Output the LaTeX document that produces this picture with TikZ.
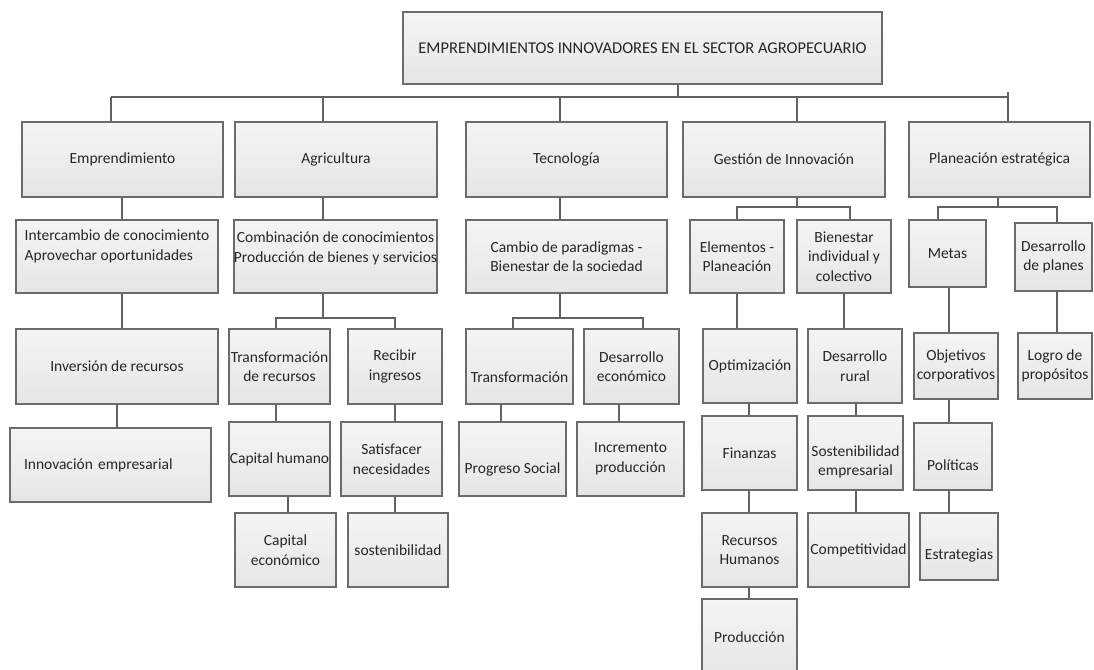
\documentclass[tikz,border=0pt]{standalone}
\usepackage{fontspec}
\setmainfont{Carlito}
\usetikzlibrary{calc,shadows}

\newcommand{\nudge}[2]{\raisebox{#1}[\height][\depth]{#2}}
% box between two corners (x1,y1) and (x2,y2), pixel units
\newcommand{\caja}[7][]{%
  \node[box, minimum width={#5-#3}, minimum height={#6-#4}, #1] (#2)
    at ({(#3+#5)/2},{(#4+#6)/2}) {#7};}

\begin{document}
\begin{tikzpicture}[x=1pt, y=-1pt,
    box/.style={draw=black!58, line width=1.2pt, top color=black!4, bottom color=black!10,
      drop shadow={shadow xshift=1.2pt, shadow yshift=-1.2pt, opacity=.25},
      inner sep=0pt, align=center, text=black!85,
      font=\fontsize{15.5}{19.5}\selectfont},
    link/.style={draw=black!62, line width=1.2pt}]
  \useasboundingbox (0,0) rectangle (1094,669);

  \caja[font=\fontsize{16.5}{19.5}\selectfont]{top}{403}{12}{882}{84}{EMPRENDIMIENTOS INNOVADORES EN EL SECTOR AGROPECUARIO}

  % first row
  \caja{empr}{22}{122}{223}{197}{Emprendimiento}
  \caja{agri}{235}{122}{437}{197}{Agricultura}
  \caja{tecn}{466}{122}{667}{197}{Tecnología}
  \caja{gest}{683}{122}{885}{197}{Gestión de Innovación}
  \caja{plan}{909}{122}{1090}{197}{Planeación estratégica}

  % second row
  \caja{inter}{16}{220}{218}{293}{\nudge{10pt}{\begin{tabular}{@{}l@{}}Intercambio de conocimiento\\Aprovechar oportunidades\end{tabular}}}
  \caja{comb}{235}{220}{436}{293}{\nudge{8pt}{\begin{tabular}{@{}c@{}}Combinación de conocimientos\\Producción de bienes y servicios\end{tabular}}}
  \caja{camb}{466}{220}{667}{293}{Cambio de paradigmas -\\Bienestar de la sociedad}
  \caja{elem}{690}{220}{784}{293}{Elementos -\\Planeación}
  \caja{bien}{797}{220}{891}{293}{Bienestar\\individual y\\colectivo}
  \caja{meta}{909}{220}{986}{287}{Metas}
  \caja{dpla}{1015}{223}{1092}{291}{Desarrollo\\de planes}

  % third row
  \caja{inve}{16}{329}{218}{404}{Inversión de recursos}
  \caja{trar}{229}{329}{330}{404}{Transformación\\de recursos}
  \caja{reci}{348}{329}{442}{404}{Recibir\\ingresos}
  \caja{traf}{466}{329}{573}{404}{\nudge{-11pt}{Transformación}}
  \caja{dese}{584}{329}{679}{404}{Desarrollo\\económico}
  \caja{opti}{703}{329}{797}{403}{Optimización}
  \caja{drur}{808}{329}{902}{403}{Desarrollo\\rural}
  \caja{obje}{914}{333}{998}{399}{Objetivos\\corporativos}
  \caja{logr}{1018}{333}{1092}{399}{Logro de\\propósitos}

  % fourth row
  \caja[text width=173pt, align=left, inner xsep=14pt]{inno}{10}{428}{211}{502}{Innovación empresarial}
  \caja{caph}{229}{422}{330}{496}{Capital humano}
  \caja{sati}{341}{422}{442}{496}{Satisfacer\\necesidades}
  \caja{prog}{459}{422}{566}{496}{\nudge{-10pt}{Progreso Social}}
  \caja{incr}{577}{422}{684}{496}{Incremento\\producción}
  \caja{fina}{702}{416}{797}{490}{Finanzas}
  \caja{sose}{808}{416}{903}{490}{\nudge{-9pt}{\begin{tabular}{@{}c@{}}Sostenibilidad\\empresarial\end{tabular}}}
  \caja{poli}{914}{423}{992}{490}{\nudge{-9pt}{Políticas}}

  % fifth row
  \caja{cape}{235}{513}{336}{587}{Capital\\económico}
  \caja{sost}{348}{513}{448}{587}{sostenibilidad}
  \caja{rehu}{702}{513}{797}{587}{Recursos\\Humanos}
  \caja{comp}{808}{513}{909}{587}{Competitividad}
  \caja{estr}{920}{513}{998}{580}{\nudge{-9pt}{Estrategias}}
  \caja{prod}{702}{599}{797}{675}{Producción}

  % main bus
  \coordinate (t0) at (678,97);
  \coordinate (bL) at (111,97);
  \coordinate (bR) at (1008,92);
  \draw[link] (top.south -| t0) -- (t0);
  \draw[link] (bL) -- (bL -| bR) -- (bR);
  \foreach \n/\x in {empr/111,agri/323,tecn/560,gest/797,plan/1008}{
    \coordinate (k) at (\x,97);
    \draw[link] (k) -- (\n.north -| k);
  }

  % two-way forks
  \foreach \p/\a/\b/\xp/\xa/\xb/\yb in {gest/elem/bien/797/737/850/207,
      plan/meta/dpla/998/938/1057/207, comb/trar/reci/323/276/395/318,
      camb/traf/dese/560/513/643/318}{
    \coordinate (fk) at (\xp,\yb);
    \coordinate (fa) at (\xa,\yb);
    \coordinate (fb) at (\xb,\yb);
    \draw[link] (\p.south -| fk) -- (fk);
    \draw[link] (\a.north -| fa) -- (fa) -- (fb) -- (\b.north -| fb);
  }

  % straight links
  \foreach \p/\c/\x in {empr/inter/122, agri/comb/323, tecn/camb/560,
      inter/inve/122, elem/opti/737, bien/drur/844, meta/obje/949, dpla/logr/1057,
      inve/inno/117, trar/caph/276, reci/sati/395, traf/prog/501, dese/incr/619,
      opti/fina/749, drur/sose/856, obje/poli/949,
      caph/cape/288, sati/sost/395, fina/rehu/749, sose/comp/856, poli/estr/949,
      rehu/prod/749}{
    \coordinate (k) at (\x,0);
    \draw[link] (\p.south -| k) -- (\c.north -| k);
  }
\end{tikzpicture}
\end{document}
